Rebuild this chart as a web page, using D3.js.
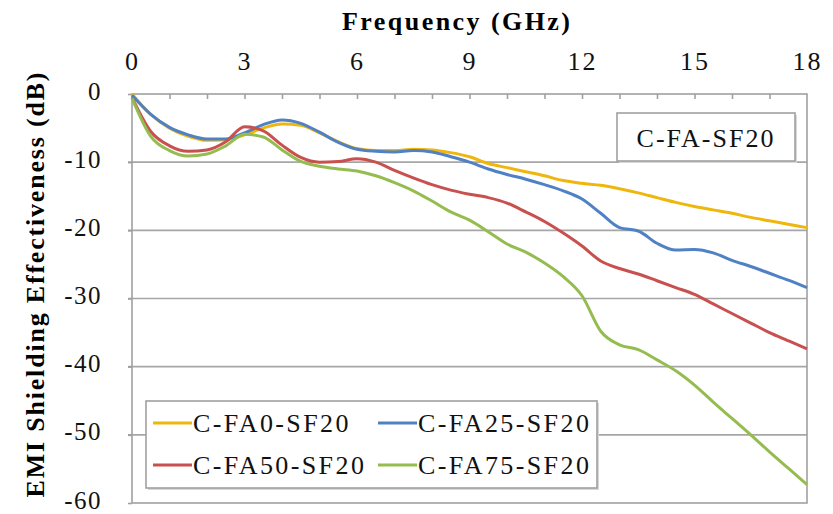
<!DOCTYPE html>
<html>
<head>
<meta charset="utf-8">
<script src="https://cdn.jsdelivr.net/npm/d3@7"></script>
<style>
    body { margin: 0; background: #fff; }
    text { font-family: "Liberation Serif", "Times New Roman", serif; }
</style>
</head>
<body>
<script>
var freq = [0, 0.5, 1, 1.5, 2, 2.5, 3, 3.5, 4, 4.5, 5, 5.5, 6, 6.5, 7, 7.5, 8, 8.5, 9,
    9.5, 10, 10.5, 11, 11.5, 12, 12.5, 13, 13.5, 14, 14.5, 15, 15.5, 16, 16.5, 17, 17.5, 18];

var fa0 = [0, -3.0, -5.0, -6.2, -6.8, -6.7, -6.0, -5.0, -4.4, -4.6, -5.7, -7.0, -8.0, -8.3, -8.3,
    -8.1, -8.2, -8.6, -9.2, -10.2, -10.8, -11.4, -12.0, -12.7, -13.1, -13.4, -13.9, -14.5, -15.2,
    -15.9, -16.5, -17.0, -17.5, -18.1, -18.6, -19.1, -19.6];
var fa25 = [-0.2, -3.0, -4.9, -6.0, -6.6, -6.6, -5.7, -4.5, -3.8, -4.3, -5.6, -7.1, -8.1, -8.4, -8.5,
    -8.3, -8.5, -9.2, -10.0, -11.0, -11.8, -12.5, -13.3, -14.2, -15.4, -17.5, -19.6, -20.1, -21.9,
    -22.9, -22.8, -23.3, -24.4, -25.3, -26.3, -27.3, -28.4];
var fa50 = [-0.5, -5.5, -7.6, -8.4, -8.2, -7.0, -4.8, -5.4, -7.5, -9.3, -10.0, -9.9, -9.5, -10.0, -11.2,
    -12.3, -13.3, -14.1, -14.7, -15.2, -16.0, -17.3, -18.7, -20.4, -22.3, -24.5, -25.6, -26.4, -27.4,
    -28.4, -29.4, -30.8, -32.2, -33.6, -35.0, -36.2, -37.4];
var fa75 = [-0.6, -6.2, -8.3, -9.1, -8.8, -7.6, -5.9, -6.3, -8.2, -9.9, -10.6, -11.0, -11.3, -12.0, -13.0,
    -14.2, -15.7, -17.3, -18.5, -20.2, -22.0, -23.2, -24.8, -26.8, -29.6, -34.8, -36.8, -37.5, -39.0,
    -40.6, -42.7, -45.2, -47.6, -50.0, -52.5, -54.9, -57.3];

var seriesNames = ["C-FA0-SF20", "C-FA25-SF20", "C-FA50-SF20", "C-FA75-SF20"];
var seriesValues = [fa0, fa25, fa50, fa75];
var colors = ["#efb60c", "#4f81c4", "#c8504f", "#94bc4f"];

var xTicks = [0, 3, 6, 9, 12, 15, 18];
var yTicks = [0, -10, -20, -30, -40, -50, -60];

var width = 833, height = 514;
var plotLeft = 132, plotRight = 807, plotTop = 94, plotBottom = 503;

var x = d3.scaleLinear().domain([0, 18]).range([plotLeft, plotRight]);
var y = d3.scaleLinear().domain([0, -60]).range([plotTop, plotBottom]);

var svg = d3.select("body")
    .append("svg")
    .attr("width", width)
    .attr("height", height);

// grid lines
svg.append("g")
    .selectAll("line")
    .data(yTicks.slice(1, -1))
    .enter()
    .append("line")
    .attr("x1", plotLeft - 4)
    .attr("x2", plotRight)
    .attr("y1", function (d) { return y(d); })
    .attr("y2", function (d) { return y(d); })
    .attr("stroke", "#a6a6a6")
    .attr("stroke-width", 1.6);

// plot frame
svg.append("rect")
    .attr("x", plotLeft)
    .attr("y", plotTop)
    .attr("width", plotRight - plotLeft)
    .attr("height", plotBottom - plotTop)
    .attr("fill", "none")
    .attr("stroke", "#a0a0a0")
    .attr("stroke-width", 1.6);

// top axis: minor ticks every 1 GHz
var xMinor = svg.append("g")
    .attr("transform", "translate(0," + plotTop + ")")
    .call(d3.axisTop(x).tickValues(d3.range(1, 18)).tickSize(-5).tickFormat(""));
xMinor.select(".domain").remove();
xMinor.selectAll("line").attr("stroke", "#a0a0a0").attr("stroke-width", 1.6);

var xAxis = svg.append("g")
    .attr("transform", "translate(0," + plotTop + ")")
    .call(d3.axisTop(x).tickValues(xTicks).tickSize(0).tickPadding(24));
xAxis.select(".domain").remove();
xAxis.selectAll("text")
    .attr("font-size", "26px")
    .attr("letter-spacing", "2px")
    .attr("font-family", "Liberation Serif")
    .attr("fill", "#111");

var yAxis = svg.append("g")
    .attr("transform", "translate(" + plotLeft + ",0)")
    .call(d3.axisLeft(y).tickValues(yTicks).tickSize(4).tickPadding(26)
        .tickFormat(function (d) { return String(d); }));
yAxis.select(".domain").remove();
yAxis.selectAll("line").attr("stroke", "#a0a0a0").attr("stroke-width", 1.6);
yAxis.selectAll("text")
    .attr("font-size", "25px")
    .attr("letter-spacing", "1.5px")
    .attr("font-family", "Liberation Serif")
    .attr("dy", "0.2em")
    .attr("fill", "#111");

// series
var line = d3.line()
    .x(function (d, i) { return x(freq[i]); })
    .y(function (d) { return y(d); })
    .curve(d3.curveMonotoneX);

svg.append("g")
    .selectAll("path")
    .data(seriesValues)
    .enter()
    .append("path")
    .attr("d", line)
    .attr("fill", "none")
    .attr("stroke", function (d, i) { return colors[i]; })
    .attr("stroke-width", 3);

// titles
svg.append("text")
    .text("Frequency (GHz)")
    .attr("x", 456)
    .attr("y", 30)
    .attr("text-anchor", "middle")
    .attr("font-size", "26px")
    .attr("font-weight", "bold")
    .attr("textLength", 228)
    .attr("lengthAdjust", "spacing");

svg.append("text")
    .text("EMI Shielding Effectiveness (dB)")
    .attr("transform", "translate(44,285) rotate(-90)")
    .attr("text-anchor", "middle")
    .attr("font-size", "26px")
    .attr("font-weight", "bold")
    .attr("textLength", 425)
    .attr("lengthAdjust", "spacing");

// annotation box
svg.append("rect")
    .attr("x", 619).attr("y", 115).attr("width", 178).attr("height", 48)
    .attr("fill", "#d8d8d8");
svg.append("rect")
    .attr("x", 617).attr("y", 113).attr("width", 178).attr("height", 48)
    .attr("fill", "#fff")
    .attr("stroke", "#a0a0a0")
    .attr("stroke-width", 1.6);
svg.append("text")
    .text("C-FA-SF20")
    .attr("x", 706)
    .attr("y", 147)
    .attr("text-anchor", "middle")
    .attr("font-size", "26px")
    .attr("letter-spacing", "2px")
    .attr("fill", "#111");

// legend
svg.append("rect")
    .attr("x", 148).attr("y", 403).attr("width", 451).attr("height", 87)
    .attr("fill", "#d8d8d8");
svg.append("rect")
    .attr("x", 146).attr("y", 401).attr("width", 451).attr("height", 87)
    .attr("fill", "#fff")
    .attr("stroke", "#a0a0a0")
    .attr("stroke-width", 1.6);

var legendPos = [[153, 423], [378, 423], [153, 465], [378, 465]];
var legend = svg.append("g")
    .selectAll("g")
    .data(seriesNames)
    .enter()
    .append("g")
    .attr("transform", function (d, i) {
        return "translate(" + legendPos[i][0] + "," + legendPos[i][1] + ")";
    });
legend.append("line")
    .attr("x1", 0).attr("x2", 39)
    .attr("y1", 0).attr("y2", 0)
    .attr("stroke", function (d, i) { return colors[i]; })
    .attr("stroke-width", 3);
legend.append("text")
    .text(function (d) { return d; })
    .attr("x", 40)
    .attr("y", 9)
    .attr("font-size", "26px")
    .attr("letter-spacing", "2.4px")
    .attr("fill", "#111");
</script>
</body>
</html>
